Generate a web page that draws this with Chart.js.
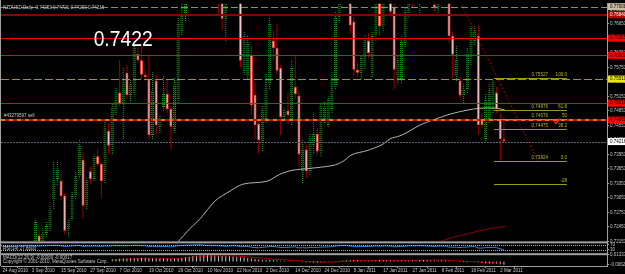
<!DOCTYPE html>
<html lang="en">
<head>
<meta charset="UTF-8">
<title>NZDUSD Daily</title>
<script src="https://cdn.jsdelivr.net/npm/chart.js@4.4.1/dist/chart.umd.min.js"></script>
<style>
  html, body { margin: 0; padding: 0; background: #000; }
  canvas { display: block; }
</style>
</head>
<body>
<canvas id="myChart" width="625" height="274"></canvas>
<script>
// daily candles, bar 0 = 24 Aug 2010, bar 137 = 3 Mar 2011
const opens = [
  0.6980,0.6990,0.7010,0.7050,0.7040,0.7090,0.7120,0.7160,0.7190,0.7180,
  0.7227,0.7200,0.7232,0.7242,0.7300,0.7344,0.7340,0.7310,0.7238,0.7262,
  0.7309,0.7350,0.7384,0.7289,0.7360,0.7344,0.7391,0.7375,0.7360,0.7444,
  0.7413,0.7482,0.7523,0.7499,0.7564,0.7518,0.7523,0.7603,0.7590,0.7560,
  0.7550,0.7435,0.7548,0.7452,0.7493,0.7520,0.7489,0.7448,0.7509,0.7650,
  0.7681,0.7740,0.7790,0.7830,0.7880,0.7930,0.7870,0.7820,0.7840,0.7790,
  0.7720,0.7676,0.7740,0.7780,0.7760,0.7770,0.7568,0.7558,0.7601,0.7518,
  0.7458,0.7421,0.7468,0.7540,0.7631,0.7615,0.7574,0.7472,0.7486,0.7462,
  0.7535,0.7517,0.7360,0.7405,0.7360,0.7415,0.7437,0.7401,0.7469,0.7456,
  0.7489,0.7537,0.7680,0.7740,0.7800,0.7780,0.7670,0.7570,0.7564,0.7578,
  0.7631,0.7564,0.7640,0.7760,0.7660,0.7740,0.7790,0.7700,0.7550,0.7550,
  0.7625,0.7690,0.7780,0.7730,0.7780,0.7820,0.7800,0.7790,0.7705,0.7699,
  0.7750,0.7790,0.7770,0.7640,0.7558,0.7548,0.7517,0.7530,0.7590,0.7630,
  0.7640,0.7466,0.7427,0.7468,0.7489,0.7523,0.7468,0.74263
];
const highs = [
  0.7005,0.7020,0.7060,0.7080,0.7100,0.7130,0.7170,0.7200,0.7208,0.7262,
  0.7240,0.7242,0.7255,0.7290,0.7380,0.7382,0.7354,0.7315,0.7262,0.7318,
  0.7360,0.7425,0.7400,0.7345,0.7370,0.7395,0.7405,0.7380,0.7465,0.7460,
  0.7500,0.7535,0.7590,0.7575,0.7580,0.7550,0.7625,0.7619,0.7625,0.7570,
  0.7599,0.7565,0.7560,0.7475,0.7560,0.7550,0.7495,0.7553,0.7680,0.7720,
  0.7760,0.7800,0.7850,0.7900,0.7960,0.7950,0.7900,0.7860,0.7850,0.7800,
  0.7740,0.7760,0.7800,0.7820,0.7790,0.7780,0.7650,0.7640,0.7620,0.7545,
  0.7465,0.7495,0.7564,0.7680,0.7651,0.7666,0.7580,0.7490,0.7523,0.7590,
  0.7600,0.7525,0.7425,0.7415,0.7440,0.7482,0.7450,0.7500,0.7505,0.7515,
  0.7565,0.7690,0.7760,0.7820,0.7840,0.7800,0.7680,0.7585,0.7600,0.7640,
  0.7645,0.7650,0.7740,0.7780,0.7760,0.7800,0.7810,0.7720,0.7600,0.7640,
  0.7700,0.7760,0.7790,0.7800,0.7830,0.7850,0.7830,0.7820,0.7730,0.7760,
  0.7800,0.7810,0.7790,0.7650,0.7620,0.7555,0.7540,0.7615,0.7660,0.7660,
  0.7660,0.7480,0.7520,0.7540,0.7550,0.7535,0.7480,0.74721
];
const lows = [
  0.6950,0.6970,0.7000,0.7030,0.7030,0.7070,0.7100,0.7140,0.7165,0.7175,
  0.7190,0.7185,0.7225,0.7235,0.7282,0.7330,0.7300,0.7230,0.7225,0.7258,
  0.7300,0.7345,0.7262,0.7280,0.7335,0.7340,0.7370,0.7303,0.7335,0.7395,
  0.7395,0.7475,0.7495,0.7425,0.7510,0.7505,0.7515,0.7585,0.7550,0.7548,
  0.7427,0.7427,0.7435,0.7440,0.7485,0.7480,0.7405,0.7440,0.7500,0.7640,
  0.7670,0.7730,0.7770,0.7810,0.7860,0.7850,0.7800,0.7780,0.7760,0.7684,
  0.7652,0.7629,0.7720,0.7740,0.7730,0.7575,0.7560,0.7550,0.7476,0.7427,
  0.7397,0.7401,0.7460,0.7530,0.7590,0.7560,0.7435,0.7465,0.7458,0.7455,
  0.7510,0.7370,0.7335,0.7346,0.7350,0.7397,0.7395,0.7390,0.7460,0.7450,
  0.7480,0.7530,0.7670,0.7720,0.7760,0.7646,0.7558,0.7555,0.7550,0.7570,
  0.7595,0.7555,0.7630,0.7640,0.7650,0.7720,0.7680,0.7530,0.7540,0.7540,
  0.7615,0.7680,0.7700,0.7710,0.7687,0.7780,0.7760,0.7705,0.7690,0.7686,
  0.7740,0.7750,0.7625,0.7555,0.7545,0.7510,0.7500,0.7520,0.7580,0.7620,
  0.7435,0.7450,0.7420,0.7460,0.7480,0.7480,0.7382,0.74203
];
const closes = [
  0.6990,0.7010,0.7050,0.7040,0.7090,0.7120,0.7160,0.7190,0.7180,0.7255,
  0.7200,0.7232,0.7247,0.7282,0.7344,0.7365,0.7309,0.7237,0.7254,0.7309,
  0.7350,0.7415,0.7289,0.7340,0.7344,0.7388,0.7375,0.7340,0.7452,0.7413,
  0.7493,0.7523,0.7499,0.7544,0.7518,0.7540,0.7619,0.7590,0.7560,0.7555,
  0.7435,0.7525,0.7456,0.7468,0.7520,0.7489,0.7452,0.7538,0.7666,0.7681,
  0.7740,0.7790,0.7830,0.7880,0.7930,0.7870,0.7820,0.7840,0.7770,0.7720,
  0.7676,0.7740,0.7780,0.7760,0.7770,0.7589,0.7642,0.7625,0.7497,0.7456,
  0.7425,0.7489,0.7544,0.7666,0.7615,0.7568,0.7472,0.7486,0.7476,0.7574,
  0.7520,0.7395,0.7405,0.7360,0.7431,0.7437,0.7401,0.7497,0.7493,0.7507,
  0.7555,0.7680,0.7740,0.7800,0.7790,0.7662,0.7570,0.7564,0.7595,0.7631,
  0.7605,0.7640,0.7720,0.7660,0.7740,0.7780,0.7690,0.7570,0.7590,0.7630,
  0.7690,0.7740,0.7730,0.7780,0.7820,0.7800,0.7790,0.7710,0.7699,0.7750,
  0.7790,0.7770,0.7640,0.7601,0.7591,0.7517,0.7530,0.7605,0.7656,0.7652,
  0.7456,0.7456,0.7507,0.7523,0.7544,0.7489,0.7427,0.74216
];

const dateIdx = [0, 8, 16, 24, 32, 40, 48, 56, 64, 72, 80, 88, 96, 104, 112, 120, 128, 136];
const dateLabels = ['24 Aug 2010', '3 Sep 2010', '15 Sep 2010', '27 Sep 2010', '7 Oct 2010', '19 Oct 2010',
  '29 Oct 2010', '10 Nov 2010', '22 Nov 2010', '2 Dec 2010', '14 Dec 2010', '24 Dec 2010', '5 Jan 2011',
  '17 Jan 2011', '27 Jan 2011', '8 Feb 2011', '18 Feb 2011', '2 Mar 2011'];

const priceTicks = [0.72151, 0.72451, 0.72751, 0.73051, 0.73351, 0.73651, 0.73951, 0.74251, 0.74551,
  0.74851, 0.75151, 0.75451, 0.75751, 0.76051, 0.76351, 0.76651, 0.76951];

// slow moving average, read where it is visible
const maIdx = [44, 47.7, 51.2, 54.0, 58.1, 62.2, 65.7, 72.3, 75.8, 79.1, 84.0, 90.3, 93.0, 95.5, 99.6,
  103.7, 105.9, 108.6, 111.3, 114.1, 117.6, 122.3, 126.9, 130.5, 135.1, 137.3];
const maVal = [0.7195, 0.72131, 0.72416, 0.72620, 0.72988, 0.73192, 0.73335, 0.73396, 0.73539, 0.73620,
  0.73661, 0.73722, 0.73804, 0.73947, 0.74029, 0.74151, 0.74273, 0.74335, 0.74437, 0.74559, 0.74661,
  0.74784, 0.74865, 0.74906, 0.74906, 0.74865];

const lowCurveIdx = [119, 123.1, 128.5, 133.2, 137.3];
const lowCurveVal = [0.72131, 0.72233, 0.72335, 0.72416, 0.72457];

// horizontal lines and their styles
const lineLevels = [0.77008, 0.76840, 0.76355, 0.76000, 0.75510, 0.75010, 0.74660, 0.74216];
const lineStyles = [
  { color: '#8a8a8a', width: 1, dash: [7, 3], tagBg: '#c8bca0', tagFg: '#000' },
  { color: '#8b0000', width: 2, dash: [], tagBg: '#c00000', tagFg: '#fff' },
  { color: '#ff0000', width: 1, dash: [], tagBg: '#ff0000', tagFg: '#000' },
  { color: '#ff0000', width: 1, dash: [], tagBg: '#ff0000', tagFg: '#000' },
  { color: '#9a9a10', width: 1, dash: [8, 3], tagBg: '#e8e800', tagFg: '#000' },
  { color: '#ff0000', width: 1, dash: [], tagBg: '#ff0000', tagFg: '#000' },
  { color: '#d00000', width: 2, dash: [], over: '#e08000', tagBg: '#ff0000', tagFg: '#000' },
  { color: '#5a6a7a', width: 1, dash: [2, 1], tagBg: '#ffffff', tagFg: '#000' }
];
const orderText = '#43279597 sell';

// fibonacci
const fibLow = 0.73824, fibHigh = 0.75527;
const fibLevels = [100, 61.8, 50, 38.2, 0, -28];
const fibPriceText = ['0.75527', '0.74876', '0.74676', '0.74475', '0.73824', ''];
const fibLevelText = ['100.0', '61.8', '50', '38.2', '0.0', '-28'];
const fibFrom = 134.3, fibTo = 154.2;
const fibDiagIdx = [124, 146.3];
const fibDiagVal = [0.7727, 0.7381];
const checkIdx = 151.5, checkPrice = 0.7463;

const bigText = '0.7422';
const bigTextIdx = 24.9, bigTextPrice = 0.7619;

// RSI(14)
const rsiVals = [
  56,54,57,56,58,60,61,62, 64,58,59,60,61,63,64,65,
  60,55,57,60,62,64,56,58, 57,59,58,56,60,58,62,63,
  61,62,61,63,65,64,62,62, 53,56,53,54,56,54,52,57,
  62,63,65,66,67,68,69,66, 64,65,63,61,59,57,60,61,
  61,53,56,55,49,46,45,48, 51,56,55,52,47,48,48,51,
  52,44,46,44,47,48,46,51, 51,52,54,59,62,63,63,59,
  54,53,55,56,55,57,60,57, 59,61,58,52,54,56,58,61,
  60,61,62,61,60,58,56,58, 59,58,51,49,50,47,49,51,
  54,54,43,43,46,47,49,46, 37,28
];
const rsiLevels = [30, 70];

// MACD(12,26,9) from bar 30
const macdHist = Array(30).fill(null).concat([
  0.0045,0.0050,0.0055,0.0060,0.0062,0.0066,0.0070,0.0072,
  0.0072,0.0071,0.0066,0.0064,0.0060,0.0060,0.0059,0.0056,0.0054,0.0058,
  0.0066,0.0074,0.0084,0.0094,0.0104,0.0112,0.0118,0.0120,0.0120,0.0119,
  0.0116,0.0112,0.0106,0.0102,0.0100,0.0096,0.0092,0.0082,0.0076,0.0070,
  0.0060,0.0050,0.0040,0.0034,0.0032,0.0030,0.0028,0.0022,0.0014,0.0010,
  0.0006,0.0004,0.0002,-0.0006,-0.0012,-0.0018,-0.0020,-0.0020,-0.0022,-0.0018,
  -0.0014,-0.0010,-0.0004,0.0004,0.0012,0.0020,0.0026,0.0030,0.0028,0.0024,
  0.0022,0.0022,0.0022,0.0022,0.0026,0.0026,0.0028,0.0030,0.0030,0.0024,
  0.0020,0.0018,0.0020,0.0024,0.0026,0.0028,0.0030,0.0032,0.0032,0.0030,
  0.0026,0.0024,0.0024,0.0022,0.0014,0.0006,0.0000,-0.0008,-0.0012,-0.0012,
  -0.0010,-0.0008,-0.0020,-0.0030,-0.0034,-0.0036,-0.0036,-0.0040,-0.0050,-0.0060
]);
const macdSignal = Array(30).fill(null).concat([
  0.0030,0.0034,0.0038,0.0042,0.0046,0.0050,0.0054,0.0058,
  0.0061,0.0063,0.0064,0.0064,0.0063,0.0063,0.0062,0.0061,0.0060,0.0060,
  0.0061,0.0064,0.0068,0.0073,0.0079,0.0086,0.0092,0.0098,0.0102,0.0106,
  0.0108,0.0109,0.0109,0.0108,0.0107,0.0105,0.0103,0.0099,0.0095,0.0090,
  0.0084,0.0077,0.0070,0.0063,0.0057,0.0052,0.0047,0.0042,0.0037,0.0032,
  0.0027,0.0023,0.0019,0.0014,0.0009,0.0004,0.0000,-0.0004,-0.0008,-0.0010,
  -0.0011,-0.0011,-0.0010,-0.0007,-0.0003,0.0002,0.0006,0.0011,0.0014,0.0016,
  0.0017,0.0018,0.0019,0.0020,0.0021,0.0022,0.0023,0.0024,0.0025,0.0025,
  0.0024,0.0023,0.0022,0.0022,0.0023,0.0024,0.0025,0.0026,0.0027,0.0028,
  0.0028,0.0027,0.0026,0.0025,0.0023,0.0020,0.0016,0.0011,0.0006,0.0002,
  -0.0001,-0.0003,-0.0007,-0.0011,-0.0016,-0.0020,-0.0023,-0.0026,-0.0031,-0.0037
]);
const macdTicks = [0.0134, -0.0062];
const macdTickText = ['0.013377', '-0.00622'];

const titleText = 'NZDUSD,Daily  0.74263 0.74721 0.74203 0.74216';
const rsiText = 'RSI(14) 27.8600';
const macdText1 = 'MACD(12,26,9) -0.00260 -0.00017';
const macdText2 = 'Copyright \u00a9 2001-2010, MetaQuotes Software Corp.';

const FONT = "'Liberation Sans', Arial, sans-serif";
Chart.defaults.font.family = FONT;
Chart.defaults.font.size = 4.5;
Chart.defaults.color = '#c8c8c8';

const canvas = document.getElementById('myChart');
const ctx = canvas.getContext('2d');

// dotted green for bull candles
function dotPattern(a, b) {
  const c = document.createElement('canvas');
  c.width = 1; c.height = 2;
  const g = c.getContext('2d');
  g.fillStyle = a; g.fillRect(0, 0, 1, 1);
  g.fillStyle = b; g.fillRect(0, 1, 1, 1);
  return ctx.createPattern(c, 'repeat');
}
const bullDots = dotPattern('#14a814', '#000000');

const isUp = i => closes[i] >= opens[i];
const wickData = [], bodyData = [];
for (let i = 0; i < closes.length; i++) {
  wickData.push({ x: i, y: [lows[i], highs[i]] });
  bodyData.push({ x: i, y: [opens[i], closes[i]] });
}
const xy = (xs, ys) => xs.map((v, k) => ({ x: v, y: ys[k] }));
const series = arr => arr.map((v, i) => ({ x: i, y: v }));

const overlay = {
  id: 'overlay',
  afterDatasetsDraw(chart) {
    const c = chart.ctx;
    const { x, y, rsi, macd } = chart.scales;
    c.save();
    c.beginPath();
    c.rect(x.left, y.top, x.right - x.left, y.bottom - y.top);
    c.clip();

    lineLevels.forEach((p, k) => {
      const st = lineStyles[k];
      const py = Math.round(y.getPixelForValue(p)) + (st.width % 2 ? 0.5 : 0);
      c.lineWidth = st.width;
      c.strokeStyle = st.color;
      c.setLineDash(st.dash);
      c.beginPath(); c.moveTo(x.left, py); c.lineTo(x.right, py); c.stroke();
      if (st.over) {
        c.strokeStyle = st.over;
        c.setLineDash([4, 4]);
        c.beginPath(); c.moveTo(x.left, py); c.lineTo(x.right, py); c.stroke();
        c.setLineDash([]);
        c.fillStyle = '#c8c8c8';
        c.font = '4.5px ' + FONT;
        c.textBaseline = 'bottom';
        c.textAlign = 'left';
        c.fillText(orderText, x.left + 3, py - 1.5);
      }
    });
    c.setLineDash([]);

    // fibonacci levels
    const fx0 = x.getPixelForValue(fibFrom), fx1 = x.getPixelForValue(fibTo);
    c.font = '4.5px ' + FONT;
    c.textBaseline = 'bottom';
    fibLevels.forEach((lv, k) => {
      const py = Math.round(y.getPixelForValue(fibLow + (fibHigh - fibLow) * lv / 100)) + 0.5;
      c.strokeStyle = '#9a9a18';
      c.lineWidth = 1;
      c.beginPath(); c.moveTo(fx0, py); c.lineTo(fx1, py); c.stroke();
      c.fillStyle = '#b8b830';
      c.textAlign = 'right';
      c.fillText(fibLevelText[k], fx1, py - 1);
      c.fillText(fibPriceText[k], fx1 - 19, py - 1);
    });

    // order close mark
    const cx = x.getPixelForValue(checkIdx), cy = y.getPixelForValue(checkPrice);
    c.strokeStyle = '#ff2020';
    c.lineWidth = 1.5;
    c.beginPath(); c.moveTo(cx - 3, cy - 1); c.lineTo(cx - 1, cy + 2); c.lineTo(cx + 3, cy - 3); c.stroke();

    // big price text
    c.font = '22px ' + FONT;
    c.fillStyle = '#ffffff';
    c.textAlign = 'left';
    c.textBaseline = 'alphabetic';
    const w = c.measureText(bigText).width;
    c.translate(x.getPixelForValue(bigTextIdx), y.getPixelForValue(bigTextPrice));
    c.scale(59 / w, 1);
    c.fillText(bigText, 0, 0);
    c.restore();

    // sub window levels
    c.save();
    c.strokeStyle = '#b0b0b0';
    c.lineWidth = 1;
    c.setLineDash([1, 1]);
    rsiLevels.forEach(v => {
      const py = Math.round(rsi.getPixelForValue(v)) + 0.5;
      c.beginPath(); c.moveTo(x.left, py); c.lineTo(x.right, py); c.stroke();
    });
    c.setLineDash([]);
    c.fillStyle = '#a0a0a0';
    c.fillRect(0, rsi.top, x.right, 2);
    c.fillRect(0, macd.top, x.right, 2);
    c.fillRect(0, 0, 1, x.top);

    c.font = '4.5px ' + FONT;
    c.fillStyle = '#c8c8c8';
    c.textAlign = 'left';
    c.textBaseline = 'middle';
    c.fillText(titleText, 3, y.top + 4);
    c.fillText(rsiText, 3, rsi.top + 7);
    c.fillText(macdText1, 3, macd.top + 5);
    c.fillText(macdText2, 3, macd.top + 9);
    c.restore();
  },
  afterDraw(chart) {
    const c = chart.ctx;
    const { y } = chart.scales;
    c.save();
    c.font = '4.5px ' + FONT;
    c.textBaseline = 'middle';
    c.textAlign = 'left';
    lineLevels.forEach((p, k) => {
      const st = lineStyles[k];
      const py = y.getPixelForValue(p);
      c.fillStyle = st.tagBg;
      c.fillRect(y.left + 1, py - 3.5, y.right - y.left - 1, 7);
      c.fillStyle = st.tagFg;
      c.fillText(p.toFixed(5), y.left + 3, py);
    });
    c.restore();
  }
};

const axisGrey = '#a0a0a0';
const rightAxis = (extra) => Object.assign({
  position: 'right',
  stack: 'win',
  grid: { drawOnChartArea: false, drawTicks: true, tickLength: 2, color: axisGrey },
  border: { display: true, color: axisGrey },
  ticks: { autoSkip: false, padding: 1, color: '#c8c8c8', font: { size: 4.5 } },
  afterFit: s => { s.width = 18; }
}, extra);

new Chart(ctx, {
  type: 'bar',
  data: {
    datasets: [
      {
        type: 'line', data: xy(maIdx, maVal), yAxisID: 'y', order: 0,
        borderColor: '#b4b4ac', borderWidth: 1, pointRadius: 0, tension: 0.3
      },
      {
        type: 'line', data: xy(lowCurveIdx, lowCurveVal), yAxisID: 'y', order: 0,
        borderColor: '#900000', borderWidth: 1, pointRadius: 0, tension: 0.3
      },
      {
        type: 'line', data: xy(fibDiagIdx, fibDiagVal), yAxisID: 'y', order: 0,
        borderColor: '#a00000', borderWidth: 1, borderDash: [2, 2], pointRadius: 0
      },
      {
        data: bodyData, yAxisID: 'y', order: 1, grouped: false, barThickness: 3,
        backgroundColor: c => isUp(c.dataIndex) ? '#0a3c0a' : '#ffe0e0',
        borderColor: c => isUp(c.dataIndex) ? bullDots : '#ff3c3c',
        borderWidth: 1, borderSkipped: false, inflateAmount: 0
      },
      {
        data: wickData, yAxisID: 'y', order: 2, grouped: false, barThickness: 1,
        backgroundColor: c => isUp(c.dataIndex) ? bullDots : '#a00000',
        borderWidth: 0, inflateAmount: 0
      },
      {
        type: 'line', data: series(rsiVals), yAxisID: 'rsi', order: 0,
        borderColor: '#2f86e0', borderWidth: 1, pointRadius: 0
      },
      {
        data: series(macdHist), yAxisID: 'macd', order: 1, grouped: false, barThickness: 1,
        backgroundColor: '#d0c4c4', borderWidth: 0, inflateAmount: 0
      },
      {
        type: 'line', data: series(macdSignal), yAxisID: 'macd', order: 0,
        borderColor: '#c00000', borderWidth: 1, borderDash: [1, 1], pointRadius: 0
      }
    ]
  },
  options: {
    responsive: false,
    animation: false,
    events: [],
    layout: { padding: { left: 1, top: 0, right: 0, bottom: 0 } },
    plugins: { legend: { display: false }, tooltip: { enabled: false } },
    scales: {
      x: {
        type: 'linear', min: -0.41, max: 165.16, offset: false,
        afterBuildTicks: s => { s.ticks = dateIdx.map(v => ({ value: v })); },
        afterFit: s => { s.height = 8; },
        grid: { drawOnChartArea: false, drawTicks: true, tickLength: 2, color: axisGrey },
        border: { display: true, color: axisGrey },
        ticks: {
          autoSkip: false, maxRotation: 0, align: 'start', padding: 0,
          callback: (v, i) => dateLabels[i]
        }
      },
      y: rightAxis({
        stackWeight: 241, min: 0.72151, max: 0.77069,
        afterBuildTicks: s => { s.ticks = priceTicks.map(v => ({ value: v })); },
        ticks: { autoSkip: false, padding: 1, callback: v => v.toFixed(5) }
      }),
      rsi: rightAxis({
        stackWeight: 12, min: 2, max: 96,
        afterBuildTicks: s => { s.ticks = rsiLevels.map(v => ({ value: v })); },
        ticks: { autoSkip: false, padding: 1, callback: v => String(v) }
      }),
      macd: rightAxis({
        stackWeight: 13, min: -0.0085, max: 0.016,
        afterBuildTicks: s => { s.ticks = macdTicks.map(v => ({ value: v })); },
        ticks: { autoSkip: false, padding: 1, callback: (v, i) => macdTickText[i] }
      })
    }
  },
  plugins: [overlay]
});
</script>
</body>
</html>
